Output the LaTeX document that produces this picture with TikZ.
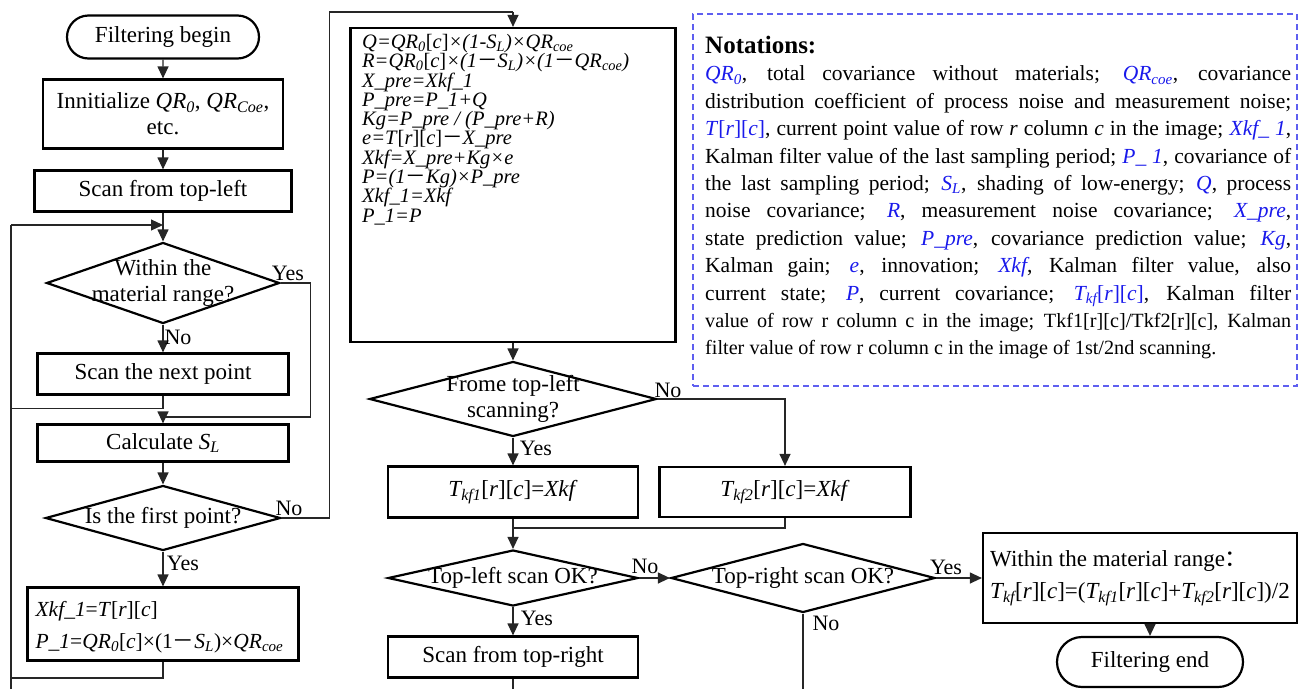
\documentclass[tikz,border=0pt]{standalone}
\usepackage{fontspec}
\setmainfont{Liberation Serif}
\newfontfamily\cjk{Noto Sans CJK SC}
\usetikzlibrary{shapes.geometric,shapes.misc,arrows.meta}

\definecolor{noteblue}{RGB}{25,25,235}
\definecolor{dashblue}{RGB}{95,95,240}

% font sizes (1pt = one unit of the picture)
\newcommand{\flowfont}{\fontsize{23}{26}\selectfont}
\newcommand{\labfont}{\fontsize{22}{24}\selectfont}
\newcommand{\kffont}{\fontsize{20.5}{19.3}\selectfont\lineskiplimit=-30pt\itshape}
\newcommand{\notefont}{\fontsize{21.5}{27.4}\selectfont}
\newcommand{\smallnote}{\fontsize{20.2}{27.4}\selectfont}
% wide minus, index brackets, blue notation symbols
\newcommand{\fwm}{{\cjk\upshape －}}
\newcommand{\br}[1]{\textup{[}#1\textup{]}}
\newcommand{\rcidx}{[\textit{r}][\textit{c}]}
\newcommand{\nt}[1]{\textcolor{noteblue}{\itshape #1}}
\newcommand{\jline}[1]{\makebox[586pt][s]{#1}}

\begin{document}
\begin{tikzpicture}[x=1pt,y=-1pt,
  box/.style={draw, line width=2.2pt, inner sep=0pt, font=\flowfont},
  term/.style={draw, line width=2.2pt, rounded rectangle, inner sep=0pt, font=\flowfont},
  dec/.style={draw, line width=2.2pt, diamond, inner sep=0pt},
  con/.style={line width=1.2pt, draw=black!85},
  arr/.style={con, -{Triangle[length=12pt,width=11pt]}},
  lab/.style={font=\labfont, inner sep=0pt},
  notebox/.style={draw=dashblue, line width=1.4pt, dash pattern=on 6pt off 4pt}]

\useasboundingbox (0,0) rectangle (1299,689);

% left column
\node[term, minimum width=192pt, minimum height=43pt] (begin) at (163,37) {Filtering begin};
\node[box, minimum width=240pt, minimum height=69pt, align=center] (init) at (163,114) {Innitialize \textit{QR\textsubscript{0}}, \textit{QR\textsubscript{Coe}},\\etc.};
\node[box, minimum width=257pt, minimum height=41pt] (scanTL) at (163,191) {Scan from top-left};
\node[dec, minimum width=233pt, minimum height=81pt, label={[font=\flowfont, align=center]center:Within the\\material range?}] (d1) at (163,283) {};
\node[box, minimum width=251pt, minimum height=41pt] (scanNext) at (163,374) {Scan the next point};
\node[box, minimum width=251pt, minimum height=37pt] (calcSL) at (163,443) {Calculate \textit{S\textsubscript{L}}};
\node[dec, minimum width=235pt, minimum height=65pt, label={[font=\flowfont]center:Is the first point?}] (d2) at (163,518) {};
\node[box, minimum width=271pt, minimum height=73pt] (init1) at (163,624) {};
\node[anchor=west, align=left, inner sep=0pt, font=\fontsize{21.5}{32}\selectfont] (init1txt) at ([xshift=9pt,yshift=-3pt]init1.west)
  {\textit{Xkf\_1}=\textit{T}\rcidx\\\textit{P\_1}=\textit{QR\textsubscript{0}}[\textit{c}]×(1\fwm\textit{S\textsubscript{L}})×\textit{QR\textsubscript{coe}}};

% middle column
\node[box, minimum width=325pt, minimum height=314pt] (kf) at (513,185) {};
\node[anchor=north west, align=left, inner sep=0pt, font=\kffont] (kftxt) at (362,34) {%
  Q=QR\textsubscript{0}\br{c}×(1-S\textsubscript{L})×QR\textsubscript{coe}\\
  R=QR\textsubscript{0}\br{c}×(1\fwm S\textsubscript{L})×(1\fwm QR\textsubscript{coe})\\
  X\_pre=Xkf\_1\\
  P\_pre=P\_1+Q\\
  Kg=P\_pre / (P\_pre+R)\\
  e=T\br{r}\br{c}\fwm X\_pre\\
  Xkf=X\_pre+Kg×e\\
  P=(1\fwm Kg)×P\_pre\\
  Xkf\_1=Xkf\\
  P\_1=P};
\node[dec, minimum width=287pt, minimum height=75pt, label={[font=\flowfont, align=center]center:Frome top-left\\scanning?}] (d3) at (513,399) {};
\node[box, minimum width=250pt, minimum height=51pt] (tkf1) at (513,492) {\textit{T\textsubscript{kf1}}\rcidx=\textit{Xkf}};
\node[box, minimum width=251pt, minimum height=50pt] (tkf2) at (785,492) {\textit{T\textsubscript{kf2}}\rcidx=\textit{Xkf}};
\node[dec, minimum width=250pt, minimum height=56pt, label={[font=\flowfont]center:Top-left scan OK?}] (d4) at (513,578) {};
\node[box, minimum width=250pt, minimum height=41pt] (scanTR) at (513,657) {Scan from top-right};
\node[dec, minimum width=264pt, minimum height=69pt, label={[font=\flowfont]center:Top-right scan OK?}] (d5) at (803,578) {};
\node[box, minimum width=314pt, minimum height=90pt, align=left, font=\fontsize{23}{32}\selectfont] (avg) at (1140,578)
  {Within the material range{\cjk ：}\\\textit{T\textsubscript{kf}}\rcidx=(\textit{T\textsubscript{kf1}}\rcidx+\textit{T\textsubscript{kf2}}\rcidx)/2};
\node[term, minimum width=186pt, minimum height=50pt] (finish) at (1150,662) {Filtering end};

% notations
\node[notebox, minimum width=604pt, minimum height=372pt] (notes) at (995,200) {};
\node[anchor=north west, align=left, inner sep=0pt, font=\notefont] (notetxt) at (705,36) {%
  {\fontsize{25}{30}\selectfont\bfseries Notations:}\\
  \jline{\nt{QR\textsubscript{0}}, total covariance without materials; \nt{QR\textsubscript{coe}}, covariance}\\
  \jline{distribution coefficient of process noise and measurement noise;}\\
  \jline{\nt{T\br{r}\br{c}}, current point value of row \textit{r} column \textit{c} in the image; \nt{Xkf\_ 1},}\\
  \jline{Kalman filter value of the last sampling period; \nt{P\_ 1}, covariance of}\\
  \jline{the last sampling period; \nt{S\textsubscript{L}}, shading of low-energy; \nt{Q}, process}\\
  \jline{noise covariance; \nt{R}, measurement noise covariance; \nt{X\_pre},}\\
  \jline{state prediction value; \nt{P\_pre}, covariance prediction value; \nt{Kg},}\\
  \jline{Kalman gain; \nt{e}, innovation; \nt{Xkf}, Kalman filter value, also}\\
  \jline{current state; \nt{P}, current covariance; \nt{T\textsubscript{kf}\br{r}\br{c}}, Kalman filter}\\
  {\smallnote\jline{value of row r column c in the image; Tkf1[r][c]/Tkf2[r][c], Kalman}}\\
  {\smallnote filter value of row r column c in the image of 1st/2nd scanning.}};

% connectors, left column
\coordinate (railTop) at (11,225);
\coordinate (railBot) at (11,678);
\coordinate (railEnd) at (11,689);
\coordinate (joinA) at (163,225);
\coordinate (joinB) at (163,417);
\draw[arr] (begin) -- (init);
\draw[arr] (init) -- (scanTL);
\draw[arr] (scanTL) -- (d1);
\draw[arr] (d1) -- (scanNext);
\draw[con] (scanNext.south) -- ++(0,13) -| (railTop);
\draw[con] (railEnd) -- (railTop);
\draw[arr] (railTop) -- (joinA);
\draw[con] (d1.east) -- ++(30,0) |- (joinB);
\draw[arr] (joinB) -- (calcSL);
\draw[arr] (calcSL) -- (d2);
\draw[arr] (d2) -- (init1);
\draw[con] (init1.south) |- (railBot);

% connectors, middle and right
\coordinate (joinC) at (513,12);
\coordinate (joinD) at (513,528);
\coordinate (outL) at (513,689);
\coordinate (outR) at (803,689);
\draw[con] (d2.east) -- ++(48,0) |- (joinC);
\draw[arr] (joinC) -- (kf);
\draw[arr] (kf) -- (d3);
\draw[arr] (d3.east) -| (tkf2);
\draw[arr] (d3) -- (tkf1);
\draw[con] (tkf2.south) |- (joinD);
\draw[arr] (tkf1) -- (d4);
\draw[arr] (d4) -- (d5);
\draw[arr] (d4) -- (scanTR);
\draw[con] (scanTR) -- (outL);
\draw[con] (d5) -- (outR);
\draw[arr] (d5) -- (avg);
\draw[arr] (finish.north |- avg.south) -- (finish);

% branch labels
\node[lab] at (288,273) {Yes};
\node[lab] at (178,337) {No};
\node[lab] at (289,508) {No};
\node[lab] at (183,563) {Yes};
\node[lab] at (668,390) {No};
\node[lab] at (536,448) {Yes};
\node[lab] at (645,566) {No};
\node[lab] at (537,618) {Yes};
\node[lab] at (946,567) {Yes};
\node[lab] at (826,623) {No};
\end{tikzpicture}
\end{document}
